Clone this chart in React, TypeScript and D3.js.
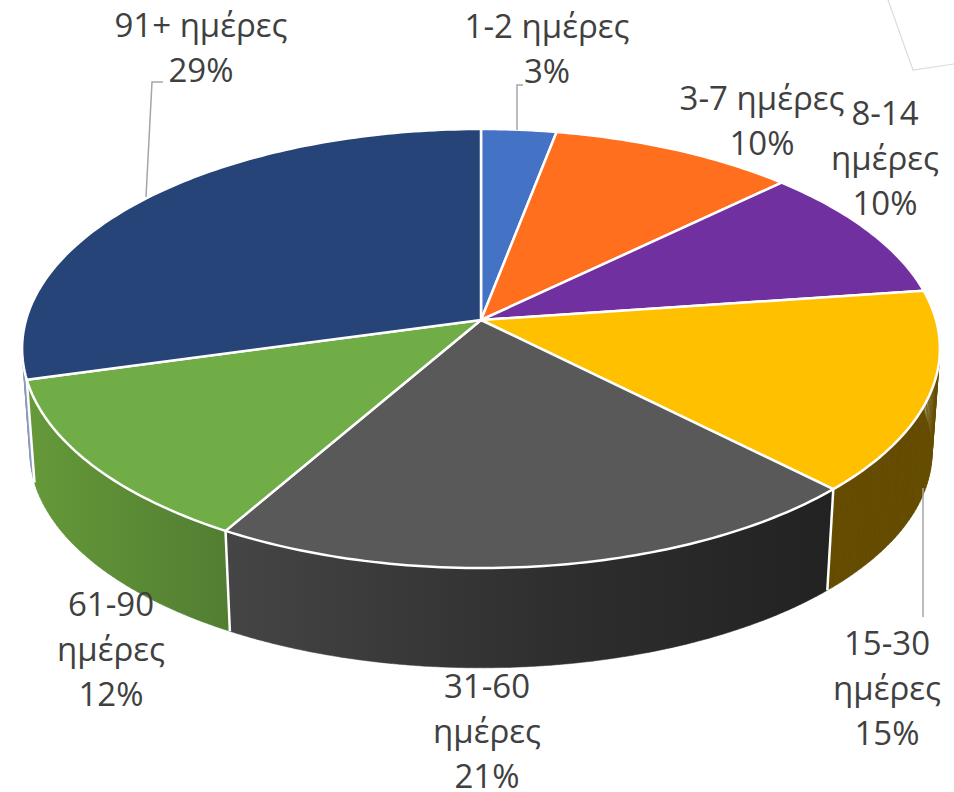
import React from 'react';
import * as d3 from 'd3';

const categories = ['1-2 ημέρες', '3-7 ημέρες', '8-14 ημέρες', '15-30 ημέρες', '31-60 ημέρες', '61-90 ημέρες', '91+ ημέρες'];
// unrounded shares as read from the slice edges; the labels round them
const values = [3.0, 9.8, 10.0, 14.8, 20.7, 12.4, 29.3];
const topColors = ['#4472C4', '#FF6F1E', '#7030A0', '#FFC000', '#595959', '#70AD47', '#264478'];
const sideColors = ['#8fa3cc', '#99430f', '#43136a', '#654C00', 'url(#sideGrey)', 'url(#sideGreen)', '#8a9abd'];

// how each label breaks into lines, and where it sits
const labelLines = [
  ['1-2 ημέρες'],
  ['3-7 ημέρες'],
  ['8-14', 'ημέρες'],
  ['15-30', 'ημέρες'],
  ['31-60', 'ημέρες'],
  ['61-90', 'ημέρες'],
  ['91+ ημέρες'],
];
const labelX = [547, 762, 885, 887, 487, 111, 201];
const labelY = [37.5, 110, 125, 655, 698, 616, 37];
const lineHeight = 45;

const leaders = [
  [[517, 130], [517, 85], [523, 85]],
  [[923, 488], [923, 617]],
  [[146, 197], [152, 82], [163, 82]],
];

const width = 954;
const height = 792;

// tilted disc: unit circle through a small perspective divide
const cx = 481;
const cy = 320;
const persp = -0.13;
const radiusX = 455;
const radiusY = 215.8;
const depthScale = 0.983;
const depthShift = 104;

function topPoint(angle: number): [number, number] {
  const ux = Math.sin(angle);
  const uy = -Math.cos(angle);
  const den = 1 + persp * uy;
  return [cx + (radiusX * ux) / den, cy + (radiusY * uy) / den];
}

function bottomPoint(angle: number): [number, number] {
  const [x, y] = topPoint(angle);
  return [cx + (x - cx) * depthScale, cy + (y - cy) * depthScale + depthShift];
}

function arcAngles(a0: number, a1: number): number[] {
  const n = Math.max(2, Math.ceil((a1 - a0) * 60));
  return d3.range(n + 1).map((i) => a0 + ((a1 - a0) * i) / n);
}

export default function App() {
  const slices = d3.pie<number>().sort(null)(values);
  const line = d3.line();

  const topPath = (s: d3.PieArcDatum<number>) =>
    line([[cx, cy], ...arcAngles(s.startAngle, s.endAngle).map(topPoint)]) + 'Z';

  // the wall is swept from quads, the plain outline would leave a notch at the silhouette
  const sidePath = (s: d3.PieArcDatum<number>) => {
    const angles = arcAngles(s.startAngle, s.endAngle);
    return d3
      .pairs(angles)
      .map(([a, b]) => line([topPoint(a), topPoint(b), bottomPoint(b), bottomPoint(a)]) + 'Z')
      .join('');
  };

  // far walls first
  const midCos = (s: d3.PieArcDatum<number>) => Math.cos((s.startAngle + s.endAngle) / 2);
  const wallOrder = d3.range(slices.length).sort((a, b) => midCos(slices[b]) - midCos(slices[a]));

  // only edges on the front half show between the walls
  const frontEdges = slices.map((s) => s.startAngle).filter((a) => Math.cos(a) < 0.3);

  return (
    <svg width={width} height={height} style={{ position: 'absolute', left: 0, top: 0, display: 'block' }}>
      <defs>
        <linearGradient id="sideGrey" gradientUnits="userSpaceOnUse" x1={227} x2={834} y1={0} y2={0}>
          <stop offset="0" stopColor="#454545" />
          <stop offset="0.55" stopColor="#2e2e2e" />
          <stop offset="1" stopColor="#222222" />
        </linearGradient>
        <linearGradient id="sideGreen" gradientUnits="userSpaceOnUse" x1={28} x2={232} y1={0} y2={0}>
          <stop offset="0" stopColor="#659939" />
          <stop offset="1" stopColor="#527d32" />
        </linearGradient>
      </defs>

      <path d="M888,0L913,70L954,64" fill="none" stroke="#dcdcdc" strokeWidth={1.2} />

      {wallOrder.map((i) => (
        <path key={i} d={sidePath(slices[i])} fill={sideColors[i]} stroke={sideColors[i]} strokeWidth={0.5} />
      ))}
      {frontEdges.map((a, i) => (
        <path key={i} d={line([topPoint(a), bottomPoint(a)]) as string} stroke="#ffffff" strokeWidth={2.5} />
      ))}
      {slices.map((s, i) => (
        <path key={i} d={topPath(s)} fill={topColors[i]} stroke="#ffffff" strokeWidth={2.5} strokeLinejoin="round" />
      ))}

      {leaders.map((pts, i) => (
        <path key={i} d={line(pts as [number, number][]) as string} fill="none" stroke="#a6a6a6" strokeWidth={1.5} />
      ))}

      <g fontFamily="'Open Sans', sans-serif" fontSize={33} fill="#404040" textAnchor="middle">
        {categories.map((c, i) => {
          const lines = [...labelLines[i], `${Math.round(values[i])}%`];
          return (
            <text key={c}>
              {lines.map((t, j) => (
                <tspan key={j} x={labelX[i]} y={labelY[i] + j * lineHeight}>
                  {t}
                </tspan>
              ))}
            </text>
          );
        })}
      </g>
    </svg>
  );
}
